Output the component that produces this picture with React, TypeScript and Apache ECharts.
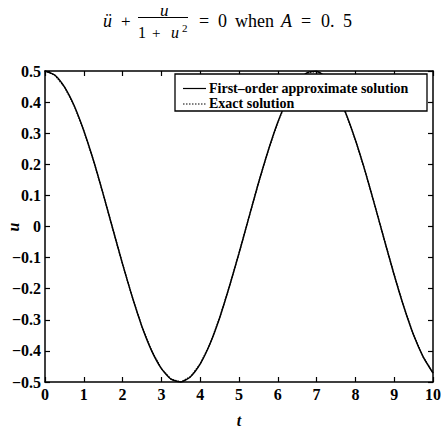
import React, { useEffect, useRef } from "react";
import * as echarts from "echarts";

// time samples (s) and response u(t) for A = 0.5
const tValues: number[] = [
  0, 0.25, 0.5, 0.75, 1, 1.25, 1.5, 1.75, 2, 2.25, 2.5, 2.75, 3, 3.25, 3.5, 3.75, 4,
  4.25, 4.5, 4.75, 5, 5.25, 5.5, 5.75, 6, 6.25, 6.5, 6.75, 7, 7.25, 7.5, 7.75, 8,
  8.25, 8.5, 8.75, 9, 9.25, 9.5, 9.75, 10,
];
const approxU: number[] = [
  0.5, 0.487, 0.449, 0.389, 0.308, 0.212, 0.104, -0.009, -0.121, -0.227, -0.322,
  -0.4, -0.457, -0.491, -0.5, -0.483, -0.442, -0.378, -0.294, -0.194, -0.086, 0.027,
  0.139, 0.243, 0.335, 0.41, 0.464, 0.494, 0.499, 0.478, 0.432, 0.365, 0.278, 0.178,
  0.068, -0.045, -0.156, -0.259, -0.349, -0.42, -0.471,
];
const exactU: number[] = [
  0.5, 0.487, 0.449, 0.389, 0.308, 0.212, 0.104, -0.009, -0.121, -0.227, -0.322,
  -0.4, -0.457, -0.491, -0.5, -0.483, -0.442, -0.378, -0.294, -0.194, -0.086, 0.027,
  0.139, 0.243, 0.335, 0.41, 0.464, 0.494, 0.499, 0.478, 0.432, 0.365, 0.278, 0.178,
  0.068, -0.045, -0.156, -0.259, -0.349, -0.42, -0.471,
];
const seriesNames: string[] = ["First\u2013order approximate solution", "Exact solution"];

const SERIF = "Liberation Serif";

function fmtY(v: number): string {
  if (Math.abs(v) < 1e-9) return "0";
  return (v < 0 ? "\u2212" : "") + Math.abs(v).toFixed(1);
}

export default function App() {
  const ref = useRef<HTMLDivElement>(null);

  useEffect(() => {
    if (!ref.current) return;
    const chart = echarts.init(ref.current, undefined, { renderer: "svg" });

    const tick = { show: true, inside: true, length: 5, lineStyle: { color: "#000", width: 1.2 } };
    const line = { show: true, onZero: false, lineStyle: { color: "#000", width: 1.5 } };
    const label = {
      color: "#000",
      fontFamily: SERIF,
      fontWeight: "bold" as const,
      fontSize: 16,
    };

    const txt = (
      text: string,
      x: number,
      y: number,
      size: number,
      italic = false,
      bold = false
    ) => ({
      type: "text",
      x,
      y,
      z: 20,
      style: {
        text,
        fontFamily: SERIF,
        fontSize: size,
        fontStyle: italic ? "italic" : "normal",
        fontWeight: bold ? "bold" : "normal",
        fill: "#000",
        verticalAlign: "middle",
        align: "left",
      },
    });

    chart.setOption({
      animation: false,
      backgroundColor: "#fff",
      grid: {
        left: 45,
        right: 8,
        top: 71,
        bottom: 45,
        containLabel: false,
        outerBoundsMode: "none",
      },
      graphic: [
        // title: equation of motion
        txt("\u00fc", 103, 21, 18, true),
        txt("+", 121, 21, 17),
        txt("u", 160, 10, 17, true),
        {
          type: "line",
          shape: { x1: 138, y1: 17.5, x2: 188, y2: 17.5 },
          style: { stroke: "#000", lineWidth: 1 },
        },
        txt("1", 138, 32.5, 16),
        txt("+", 152, 32.5, 15),
        txt("u", 171, 32.5, 16, true),
        txt("2", 182, 28, 11),
        txt("=", 199, 21, 18),
        txt("0", 218, 21, 18),
        txt("when", 235, 21, 18),
        txt("A", 281, 21, 18, true),
        txt("=", 301, 21, 18),
        txt("0.", 321, 21, 18),
        txt("5", 343, 21, 18),
        // y-axis name, rotated
        {
          type: "text",
          x: 13,
          y: 227,
          rotation: Math.PI / 2,
          z: 20,
          style: {
            text: "u",
            fontFamily: SERIF,
            fontSize: 16,
            fontStyle: "italic",
            fontWeight: "bold",
            fill: "#000",
            align: "center",
            verticalAlign: "middle",
          },
        },
        // legend box
        {
          type: "rect",
          z: 19,
          shape: { x: 175, y: 74, width: 252, height: 37 },
          style: { fill: "#fff", stroke: "#000", lineWidth: 1.3 },
        },
        {
          type: "line",
          z: 20,
          shape: { x1: 183, y1: 88.5, x2: 206, y2: 88.5 },
          style: { stroke: "#000", lineWidth: 1.2 },
        },
        {
          type: "line",
          z: 20,
          shape: { x1: 183, y1: 104, x2: 206, y2: 104 },
          style: { stroke: "#000", lineWidth: 1, lineDash: [1.5, 1.5] },
        },
        txt(seriesNames[0], 209, 88.5, 14, false, true),
        txt(seriesNames[1], 209, 103.5, 14, false, true),
      ],
      xAxis: [
        {
          type: "value",
          min: 0,
          max: 10,
          interval: 1,
          position: "bottom",
          name: "t",
          nameLocation: "middle",
          nameGap: 30,
          nameTextStyle: {
            color: "#000",
            fontFamily: SERIF,
            fontWeight: "bold",
            fontStyle: "italic",
            fontSize: 16,
          },
          axisLine: line,
          axisTick: tick,
          axisLabel: { ...label, margin: 4 },
          splitLine: { show: false },
        },
        {
          type: "value",
          min: 0,
          max: 10,
          interval: 1,
          position: "top",
          axisLine: line,
          axisTick: tick,
          axisLabel: { show: false },
          splitLine: { show: false },
        },
      ],
      yAxis: [
        {
          type: "value",
          min: -0.5,
          max: 0.5,
          interval: 0.1,
          position: "left",
          axisLine: line,
          axisTick: tick,
          axisLabel: { ...label, margin: 4, formatter: fmtY },
          splitLine: { show: false },
        },
        {
          type: "value",
          min: -0.5,
          max: 0.5,
          interval: 0.1,
          position: "right",
          axisLine: line,
          axisTick: tick,
          axisLabel: { show: false },
          splitLine: { show: false },
        },
      ],
      series: [
        {
          name: seriesNames[1],
          type: "line",
          xAxisIndex: 0,
          yAxisIndex: 0,
          data: tValues.map((t, i) => [t, exactU[i]]),
          symbol: "none",
          showSymbol: false,
          lineStyle: { color: "#000", width: 1.3, type: "dotted" },
          z: 2,
        },
        {
          name: seriesNames[0],
          type: "line",
          xAxisIndex: 0,
          yAxisIndex: 0,
          data: tValues.map((t, i) => [t, approxU[i]]),
          symbol: "none",
          showSymbol: false,
          smooth: 0.2,
          lineStyle: { color: "#000", width: 1.5, type: "solid" },
          z: 3,
        },
      ],
    });

    return () => chart.dispose();
  }, []);

  return (
    <div
      ref={ref}
      style={{ width: 441, height: 427, position: "absolute", left: 0, top: 0 }}
    />
  );
}
